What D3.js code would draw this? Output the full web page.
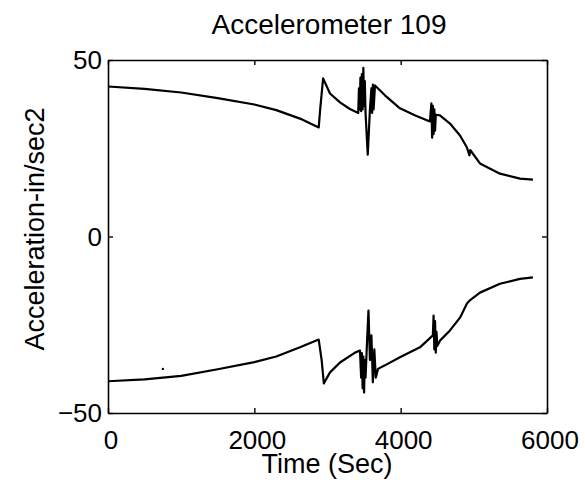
<!DOCTYPE html>
<html>
<head>
<meta charset="utf-8">
<script src="https://cdn.jsdelivr.net/npm/d3@7"></script>
<style>
  html, body { margin: 0; padding: 0; background: #fff; }
  svg { display: block; }
  text { font-family: "Liberation Sans", Arial, Helvetica, sans-serif; fill: #000; }
</style>
</head>
<body>
<svg id="chart" width="585" height="487"></svg>
<script>
// Upper envelope of accelerometer 109 (time in seconds, acceleration in in/sec^2)
const upperTime = [0, 500, 1000, 1500, 2000, 2300, 2624, 2880, 2900, 2940, 3034, 3171, 3300, 3420,
  3430, 3440, 3450, 3460, 3470, 3480, 3490, 3500, 3510, 3520, 3550, 3580, 3600, 3610, 3620, 3630, 3649,
  3785, 3990, 4200, 4400, 4420, 4430, 4440, 4450, 4460, 4470, 4480, 4537, 4674, 4811, 4906,
  4940, 4950, 5084, 5357, 5630, 5808];
const upperAccel = [42.5, 41.8, 40.8, 39.2, 37.4, 35.8, 33.4, 30.9, 36.0, 44.8, 40.5, 38.0, 36.2, 35.0,
  42.0, 36.0, 45.0, 35.5, 46.0, 36.0, 47.8, 37.0, 44.0, 35.0, 23.2, 36.0, 42.0, 35.0, 43.0, 36.0, 42.8,
  40.0, 36.3, 34.3, 32.6, 37.7, 28.0, 37.0, 29.0, 36.0, 30.0, 34.5, 34.3, 32.0, 28.6, 25.2,
  23.0, 24.5, 20.7, 17.8, 16.4, 16.1];

// Lower envelope
const lowerTime = [0, 500, 1000, 1500, 2000, 2300, 2624, 2880, 2920, 2950, 3034, 3171, 3376, 3444,
  3460, 3470, 3480, 3490, 3500, 3510, 3520, 3540, 3560, 3580, 3600, 3620, 3640, 3660, 3690,
  3785, 3990, 4264, 4440, 4450, 4460, 4470, 4480, 4490, 4500, 4537, 4674, 4811, 4906, 4950,
  5084, 5357, 5630, 5808];
const lowerAccel = [-41.0, -40.5, -39.5, -37.6, -35.6, -34.0, -31.4, -29.2, -35.0, -41.6, -38.5, -35.7, -32.9, -32.3,
  -40.0, -33.0, -43.0, -34.0, -44.2, -35.0, -40.0, -30.0, -21.0, -35.0, -28.0, -41.3, -32.0, -40.0, -37.5,
  -36.5, -34.2, -31.4, -28.0, -22.4, -32.0, -24.0, -32.9, -27.0, -31.0, -29.5, -26.6, -23.0, -19.0, -18.0,
  -15.9, -13.4, -12.0, -11.6];

// Isolated sample recorded just off the lower trace
const strayTime = [750];
const strayAccel = [-37.5];

const xTicks = [0, 2000, 4000, 6000];
const yTicks = [-50, 0, 50];
const yTickLabels = ["\u221250", "0", "50"];

const titleText = "Accelerometer 109";
const xLabelText = "Time (Sec)";
const yLabelText = "Acceleration-in/sec2";

const svg = d3.select("#chart");
const box = { left: 108, right: 547, top: 60, bottom: 413 };

const x = d3.scaleLinear().domain([0, 6000]).range([box.left, box.right]);
const y = d3.scaleLinear().domain([-50, 50]).range([box.bottom, box.top]);

// Traces
const line = d3.line().x(d => x(d[0])).y(d => y(d[1]));
const upper = upperTime.map((t, i) => [t, upperAccel[i]]);
const lower = lowerTime.map((t, i) => [t, lowerAccel[i]]);

svg.append("g").selectAll("path")
  .data([upper, lower])
  .join("path")
  .attr("d", line)
  .attr("fill", "none")
  .attr("stroke", "#000")
  .attr("stroke-width", 2.2)
  .attr("stroke-linejoin", "round");

svg.append("g").selectAll("circle")
  .data(strayTime.map((t, i) => [t, strayAccel[i]]))
  .join("circle")
  .attr("cx", d => x(d[0]))
  .attr("cy", d => y(d[1]))
  .attr("r", 1.2)
  .attr("fill", "#000");

// Axes with inward ticks on all four sides
const tick = 5;
const axB = d3.axisBottom(x).tickValues(xTicks).tickSizeInner(-tick).tickSizeOuter(0).tickFormat("");
const axT = d3.axisTop(x).tickValues(xTicks).tickSizeInner(-tick).tickSizeOuter(0).tickFormat("");
const axL = d3.axisLeft(y).tickValues(yTicks).tickSizeInner(-tick).tickSizeOuter(0).tickFormat("");
const axR = d3.axisRight(y).tickValues(yTicks).tickSizeInner(-tick).tickSizeOuter(0).tickFormat("");

function styleAxis(g) {
  g.selectAll("path.domain").attr("stroke", "#000").attr("stroke-width", 1.6);
  g.selectAll(".tick line").attr("stroke", "#000").attr("stroke-width", 1.4);
}
svg.append("g").attr("transform", `translate(0,${box.bottom})`).call(axB).call(styleAxis);
svg.append("g").attr("transform", `translate(0,${box.top})`).call(axT).call(styleAxis);
svg.append("g").attr("transform", `translate(${box.left},0)`).call(axL).call(styleAxis);
svg.append("g").attr("transform", `translate(${box.right},0)`).call(axR).call(styleAxis);

// Tick labels
svg.append("g").selectAll("text")
  .data(xTicks)
  .join("text")
  .attr("x", d => x(d) + 3)
  .attr("y", 449)
  .attr("text-anchor", "middle")
  .attr("font-size", 26)
  .text(d => d3.format("d")(d));

svg.append("g").selectAll("text")
  .data(yTicks)
  .join("text")
  .attr("x", box.left - 6)
  .attr("y", d => y(d))
  .attr("dy", "0.36em")
  .attr("text-anchor", "end")
  .attr("font-size", 26)
  .text((d, i) => yTickLabels[i]);

// Titles
svg.append("text")
  .attr("x", 329).attr("y", 34)
  .attr("text-anchor", "middle")
  .attr("font-size", 28)
  .text(titleText);

svg.append("text")
  .attr("x", 327).attr("y", 473)
  .attr("text-anchor", "middle")
  .attr("font-size", 27)
  .text(xLabelText);

svg.append("text")
  .attr("transform", "translate(44,229) rotate(-90)")
  .attr("text-anchor", "middle")
  .attr("font-size", 27)
  .text(yLabelText);
</script>
</body>
</html>
